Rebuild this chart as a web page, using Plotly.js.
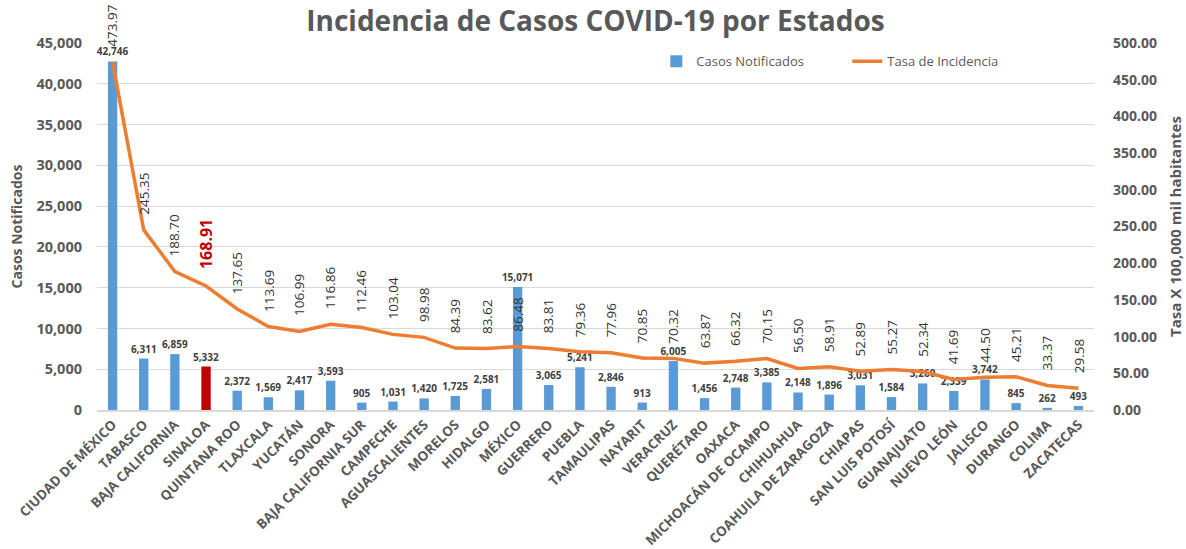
<!DOCTYPE html>
<html>
<head>
<meta charset="utf-8">
<script src="https://cdn.plot.ly/plotly-3.0.1.min.js"></script>
<style>
  html, body { margin: 0; padding: 0; background: #ffffff; }
  #chart { width: 1186px; height: 549px; }
</style>
</head>
<body>
<div id="chart"></div>
<script>
const estados = [
  "CIUDAD DE MÉXICO", "TABASCO", "BAJA CALIFORNIA", "SINALOA", "QUINTANA ROO",
  "TLAXCALA", "YUCATÁN", "SONORA", "BAJA CALIFORNIA SUR", "CAMPECHE",
  "AGUASCALIENTES", "MORELOS", "HIDALGO", "MÉXICO", "GUERRERO", "PUEBLA",
  "TAMAULIPAS", "NAYARIT", "VERACRUZ", "QUERÉTARO", "OAXACA",
  "MICHOACÁN DE OCAMPO", "CHIHUAHUA", "COAHUILA DE ZARAGOZA", "CHIAPAS",
  "SAN LUIS POTOSÍ", "GUANAJUATO", "NUEVO LEÓN", "JALISCO", "DURANGO",
  "COLIMA", "ZACATECAS"
];

const casosNotificados = [
  42746, 6311, 6859, 5332, 2372, 1569, 2417, 3593, 905, 1031,
  1420, 1725, 2581, 15071, 3065, 5241, 2846, 913, 6005, 1456,
  2748, 3385, 2148, 1896, 3031, 1584, 3260, 2339, 3742, 845,
  262, 493
];

const tasaIncidencia = [
  473.97, 245.35, 188.70, 168.91, 137.65, 113.69, 106.99, 116.86, 112.46, 103.04,
  98.98, 84.39, 83.62, 86.48, 83.81, 79.36, 77.96, 70.85, 70.32, 63.87,
  66.32, 70.15, 56.50, 58.91, 52.89, 55.27, 52.34, 41.69, 44.50, 45.21,
  33.37, 29.58
];

const leftTicks = [0, 5000, 10000, 15000, 20000, 25000, 30000, 35000, 40000, 45000];
const rightTicks = [0, 50, 100, 150, 200, 250, 300, 350, 400, 450, 500];

const highlighted = "SINALOA";

const BLUE = "#5B9BD5";
const RED = "#C00000";
const ORANGE = "#ED7D31";
const GREY = "#595959";
const DARK = "#404040";
const FONT = "Open Sans, sans-serif";

const barColors = estados.map(e => e === highlighted ? RED : BLUE);

const barTrace = {
  type: "bar",
  name: "Casos Notificados",
  x: estados,
  y: casosNotificados,
  marker: { color: barColors },
  width: 0.3,
  text: casosNotificados.map(v => v.toLocaleString("en-US")),
  textposition: "outside",
  constraintext: "none",
  cliponaxis: false,
  textfont: { family: FONT, size: 10, color: DARK, weight: "bold" },
  hoverinfo: "x+y",
  yaxis: "y"
};

const lineTrace = {
  type: "scatter",
  mode: "lines",
  name: "Tasa de Incidencia",
  x: estados,
  y: tasaIncidencia,
  line: { color: ORANGE, width: 3.5 },
  yaxis: "y2",
  hoverinfo: "x+y"
};

const lineLabels = estados.map((e, i) => ({
  x: e,
  y: tasaIncidencia[i],
  xref: "x",
  yref: "y2",
  text: tasaIncidencia[i].toFixed(2),
  textangle: -90,
  showarrow: false,
  xanchor: "center",
  yanchor: "bottom",
  yshift: e === highlighted ? 15 : 13,
  font: e === highlighted
    ? { family: FONT, size: 16, color: RED, weight: "bold" }
    : { family: FONT, size: 13.5, color: "#333333", weight: 500 }
}));

const layout = {
  width: 1186,
  height: 549,
  paper_bgcolor: "#ffffff",
  plot_bgcolor: "#ffffff",
  margin: { l: 97, r: 92, t: 43, b: 139 },
  font: { family: FONT, color: GREY },
  title: {
    text: "<b>Incidencia de Casos COVID-19 por Estados</b>",
    font: { family: FONT, size: 28, color: GREY },
    x: 0.5, xref: "paper", xanchor: "center",
    y: 0.962, yref: "container", yanchor: "middle"
  },
  showlegend: true,
  legend: {
    orientation: "h",
    x: 0.561, xanchor: "left",
    y: 0.95, yanchor: "middle",
    entrywidth: 146,
    entrywidthmode: "pixels",
    font: { family: FONT, size: 13, color: GREY },
    bgcolor: "rgba(0,0,0,0)"
  },
  xaxis: {
    type: "category",
    tickangle: -45,
    tickfont: { family: FONT, size: 13.5, color: GREY, weight: "bold" },
    showgrid: false,
    showline: true,
    linecolor: "#D9D9D9",
    linewidth: 1.5,
    ticks: "",
    automargin: false
  },
  yaxis: {
    range: [0, 45000],
    tickvals: leftTicks,
    ticktext: leftTicks.map(v => v.toLocaleString("en-US")),
    tickfont: { family: FONT, size: 14.5, color: GREY, weight: "bold" },
    ticklabelstandoff: 14,
    gridcolor: "#D9D9D9",
    gridwidth: 1,
    zeroline: false,
    ticks: "",
    automargin: false,
    title: {
      text: "<b>Casos Notificados</b>",
      font: { family: FONT, size: 14, color: GREY },
      standoff: 10
    }
  },
  yaxis2: {
    overlaying: "y",
    side: "right",
    range: [0, 500],
    tickvals: rightTicks,
    ticktext: rightTicks.map(v => v.toFixed(2)),
    tickfont: { family: FONT, size: 14, color: GREY, weight: "bold" },
    ticklabelstandoff: 18,
    showgrid: false,
    zeroline: false,
    ticks: "",
    automargin: false,
    title: {
      text: "<b>Tasa X 100,000 mil habitantes</b>",
      font: { family: FONT, size: 15, color: GREY },
      standoff: 14
    }
  },
  annotations: lineLabels
};

Plotly.newPlot("chart", [barTrace, lineTrace], layout, { displayModeBar: false, staticPlot: true });
</script>
</body>
</html>
